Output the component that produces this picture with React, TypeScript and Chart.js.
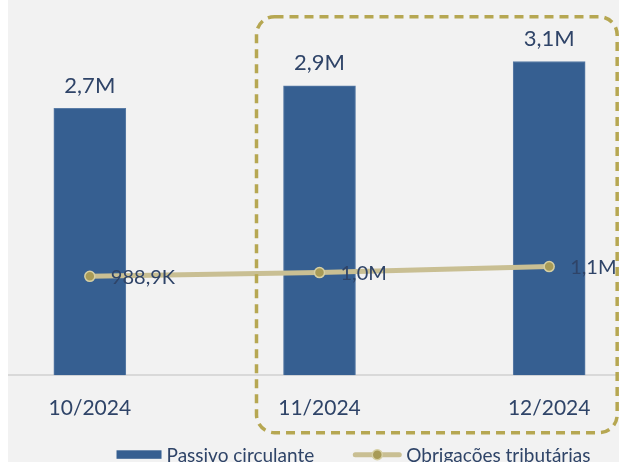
import React, { useEffect, useRef } from 'react';
import { Chart, registerables } from 'chart.js';

Chart.register(...registerables);

const categories = ['10/2024', '11/2024', '12/2024'];
const passivoCirculante = [2668000, 2892000, 3135000];
const obrigacoesTributarias = [988900, 1026000, 1086000];
const seriesNames = ['Passivo circulante', 'Obrigações tributárias'];
const highlightedCategories = ['11/2024', '12/2024'];

const FONT = 'Lato';
const TEXT = '#2f4468';
const BAR = '#365f91';
const BAR_EDGE = '#5a7ca6';
const LINE = '#c9bf93';
const POINT = '#a89b57';
const POINT_EDGE = '#d6cfa3';
const DASH = '#b6a752';
const BG = '#f2f2f2';

function fmt(v: number): string {
  if (v >= 1e6) return (v / 1e6).toFixed(1).replace('.', ',') + 'M';
  return (v / 1e3).toFixed(1).replace('.', ',') + 'K';
}

const valueLabels = {
  id: 'valueLabels',
  afterDatasetsDraw(chart: any) {
    const ctx = chart.ctx;
    ctx.save();
    ctx.fillStyle = TEXT;
    chart.data.datasets.forEach((ds: any, i: number) => {
      const meta = chart.getDatasetMeta(i);
      meta.data.forEach((el: any, j: number) => {
        const text = fmt(ds.data[j]);
        if (meta.type === 'bar') {
          ctx.font = `22px ${FONT}`;
          ctx.textAlign = 'center';
          ctx.textBaseline = 'alphabetic';
          ctx.fillText(text, el.x, el.y - 15.5);
        } else {
          ctx.font = `20px ${FONT}`;
          ctx.textAlign = 'left';
          ctx.textBaseline = 'middle';
          ctx.fillText(text, el.x + 21, el.y + 1);
        }
      });
    });
    ctx.restore();
  },
};

function roundedRect(ctx: CanvasRenderingContext2D, x: number, y: number, w: number, h: number, r: number) {
  ctx.beginPath();
  ctx.moveTo(x + r, y);
  ctx.lineTo(x + w - r, y);
  ctx.arcTo(x + w, y, x + w, y + r, r);
  ctx.lineTo(x + w, y + h - r);
  ctx.arcTo(x + w, y + h, x + w - r, y + h, r);
  ctx.lineTo(x + r, y + h);
  ctx.arcTo(x, y + h, x, y + h - r, r);
  ctx.lineTo(x, y + r);
  ctx.arcTo(x, y, x + r, y, r);
  ctx.closePath();
}

const customLegend = {
  id: 'customLegend',
  afterDraw(chart: any) {
    const ctx = chart.ctx;
    const area = chart.chartArea;
    ctx.save();
    ctx.font = `19px ${FONT}`;
    const w0 = ctx.measureText(seriesNames[0]).width;
    const w1 = ctx.measureText(seriesNames[1]).width;
    const boxW = 45, markW = 48, gapText = 5, gapItem = 39;
    const total = boxW + gapText + w0 + gapItem + markW + gapText + w1;
    const cx = (area.left + area.right) / 2 + 34;
    let x = cx - total / 2;
    const yc = area.bottom + 79.5;
    const yText = area.bottom + 87;
    ctx.fillStyle = BAR;
    ctx.fillRect(x, yc - 4.5, boxW, 8.5);
    x += boxW + gapText;
    ctx.fillStyle = TEXT;
    ctx.textAlign = 'left';
    ctx.textBaseline = 'alphabetic';
    ctx.fillText(seriesNames[0], x, yText);
    x += w0 + gapItem;
    ctx.strokeStyle = LINE;
    ctx.lineWidth = 5;
    ctx.lineCap = 'round';
    ctx.beginPath();
    ctx.moveTo(x + 2, yc);
    ctx.lineTo(x + markW - 2, yc);
    ctx.stroke();
    ctx.beginPath();
    ctx.arc(x + markW / 2, yc, 5, 0, Math.PI * 2);
    ctx.fillStyle = POINT;
    ctx.fill();
    ctx.lineWidth = 1.5;
    ctx.strokeStyle = POINT_EDGE;
    ctx.stroke();
    x += markW + gapText;
    ctx.fillStyle = TEXT;
    ctx.fillText(seriesNames[1], x, yText);
    ctx.restore();
  },
};

const highlightBox = {
  id: 'highlightBox',
  afterDraw(chart: any) {
    const ctx = chart.ctx;
    const xs = chart.scales.x;
    const area = chart.chartArea;
    const i0 = categories.indexOf(highlightedCategories[0]);
    const i1 = categories.indexOf(highlightedCategories[highlightedCategories.length - 1]);
    const left = xs.getPixelForValue(i0) - 63;
    const right = xs.getPixelForValue(i1) + 68;
    const top = area.top - 8.3;
    const bottom = area.bottom + 57.4;
    ctx.save();
    ctx.setLineDash([9, 6]);
    ctx.lineWidth = 3.5;
    ctx.strokeStyle = DASH;
    roundedRect(ctx, left, top, right - left, bottom - top, 18);
    ctx.stroke();
    ctx.restore();
  },
};

export default function App() {
  const ref = useRef<HTMLCanvasElement | null>(null);

  useEffect(() => {
    if (!ref.current) return;
    const chart = new Chart(ref.current, {
      type: 'bar',
      data: {
        labels: categories,
        datasets: [
          {
            type: 'line',
            label: seriesNames[1],
            data: obrigacoesTributarias,
            borderColor: LINE,
            borderWidth: 5,
            pointRadius: 5,
            pointBackgroundColor: POINT,
            pointBorderColor: POINT_EDGE,
            pointBorderWidth: 1.5,
            tension: 0,
            order: 0,
          } as any,
          {
            type: 'bar',
            label: seriesNames[0],
            data: passivoCirculante,
            backgroundColor: BAR,
            borderColor: BAR_EDGE,
            borderWidth: 1,
            barThickness: 72,
            order: 1,
          } as any,
        ],
      },
      options: {
        responsive: false,
        animation: false,
        layout: { autoPadding: false, padding: { top: 25, bottom: 21.5, left: 0, right: 0 } } as any,
        plugins: {
          legend: { display: false },
          tooltip: { enabled: false },
        },
        scales: {
          x: {
            grid: { display: false, drawTicks: false },
            border: { display: true, color: '#d9d9d9', width: 2 },
            ticks: { color: TEXT, font: { family: FONT, size: 21 }, padding: 20 },
          },
          y: {
            display: false,
            min: 0,
            max: 3500000,
          },
        },
      },
      plugins: [valueLabels, customLegend, highlightBox],
    });
    return () => chart.destroy();
  }, []);

  return (
    <div
      style={{
        position: 'absolute',
        left: 8,
        top: 0,
        width: 611,
        height: 462,
        background: BG,
        overflow: 'hidden',
      }}
    >
      <canvas
        ref={ref}
        width={689}
        height={462}
        style={{ position: 'absolute', left: -33, top: 0, width: 689, height: 462 }}
      />
    </div>
  );
}
